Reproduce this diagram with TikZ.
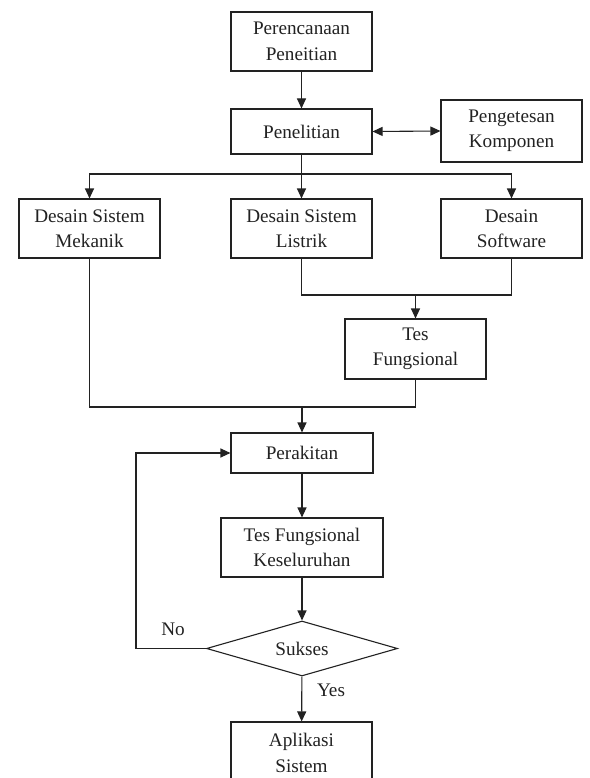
\documentclass[tikz,border=0pt]{standalone}
\usepackage{fontspec}
\setmainfont{Liberation Serif}
\usetikzlibrary{arrows.meta,shapes.geometric}
\definecolor{ink}{HTML}{222222}
\begin{document}
\begin{tikzpicture}[x=1pt,y=-1pt,
  every node/.style={font=\fontsize{19.2}{25.5}\selectfont, text=ink},
  box/.style={draw=ink, line width=1.1pt, inner sep=0pt, align=center, minimum width=141pt},
  line/.style={draw=ink, line width=1.1pt},
  arr/.style={line, -{Triangle[length=10pt,width=9pt]}},
  darr/.style={line, {Triangle[length=10pt,width=9pt]}-{Triangle[length=10pt,width=9pt]}},
  lbl/.style={inner sep=0pt}]
\useasboundingbox (0,0) rectangle (589,778);
\fill[white] (0,0) rectangle (589,778);
\node[box, minimum height=59pt] (p1) at (301.5,41.5) {Perencanaan\\Peneitian};
\node[box, minimum height=45pt] (p2) at (301.5,131.5) {Penelitian};
\node[box, minimum height=62pt] (pk) at (511.5,131) {Pengetesan\\Komponen};
\node[box, minimum height=59pt] (m) at (89.5,228.5) {Desain Sistem\\Mekanik};
\node[box, minimum height=59pt] (l) at (301.5,228.5) {Desain Sistem\\Listrik};
\node[box, minimum height=59pt] (s) at (511.5,228.5) {Desain\\Software};
\node[box, minimum height=60pt] (t) at (415.5,349) {Tes\\Fungsional};
\node[box, minimum height=40pt, minimum width=142pt] (pr) at (302,453) {Perakitan};
\node[box, minimum height=59pt, minimum width=162pt] (tk) at (302,547.5) {Tes Fungsional\\Keseluruhan};
\node[draw=ink, line width=1.1pt, diamond, aspect=3.47, minimum width=191pt, minimum height=55pt, inner sep=0pt] (d) at (302,648.5) {Sukses};
\node[box, minimum height=62pt] (a) at (301.5,753) {Aplikasi\\Sistem};
\node[lbl] (no) at (173,629) {No};
\node[lbl] (yes) at (331,690) {Yes};
\coordinate (b1) at (301.5,174);
\coordinate (j1) at (415.5,295);
\coordinate (j2) at (302,407);
\coordinate (lp) at (136,453);
\draw[arr] (p1) -- (p2);
\draw[darr] (p2.east) -- (pk.west);
\draw[line] (p2) -- (b1);
\draw[arr] (b1) -| (m);
\draw[arr] (b1) -| (s);
\draw[arr] (b1) -- (l);
\draw[line] (l) |- (j1);
\draw[line] (s) |- (j1);
\draw[arr] (j1) -- (t);
\draw[line] (m) |- (j2);
\draw[line] (t) |- (j2);
\draw[arr] (j2) -- (pr);
\draw[arr] (pr) -- (tk);
\draw[arr] (tk) -- (d);
\draw[arr] (d) -- (a);
\draw[arr] (d.west) -| (lp) -- (pr.west);
\end{tikzpicture}
\end{document}
